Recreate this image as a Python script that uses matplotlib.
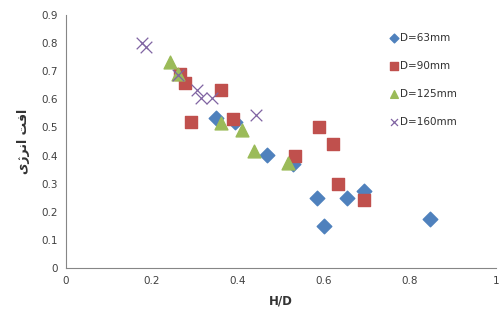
import matplotlib
matplotlib.use('Agg')
import matplotlib.pyplot as plt

plt.rcParams['font.family'] = ['DejaVu Sans']

# D=63mm
hd_63 = [0.35, 0.393, 0.468, 0.529, 0.583, 0.600, 0.654, 0.692, 0.847]
e_63 = [0.535, 0.52, 0.402, 0.369, 0.248, 0.149, 0.25, 0.273, 0.174]
# D=90mm
hd_90 = [0.265, 0.277, 0.36, 0.291, 0.388, 0.588, 0.620, 0.533, 0.632, 0.693]
e_90 = [0.69, 0.66, 0.633, 0.518, 0.53, 0.50, 0.44, 0.40, 0.30, 0.24]
# D=125mm
hd_125 = [0.242, 0.261, 0.36, 0.41, 0.437, 0.517]
e_125 = [0.733, 0.69, 0.515, 0.49, 0.417, 0.372]
# D=160mm
hd_160 = [0.178, 0.186, 0.26, 0.304, 0.313, 0.339, 0.442]
e_160 = [0.80, 0.785, 0.687, 0.633, 0.604, 0.606, 0.545]

labels = ['D=63mm', 'D=90mm', 'D=125mm', 'D=160mm']
colors = ['#4F81BD', '#C0504D', '#9BBB59', '#8064A2']

# "افت انرژی" in presentation forms, visual order
ylabel = '\uFBFC\uFB8A\uFEAE\uFEE7\uFE8D \uFE96\uFED3\uFE8D'

fig = plt.figure(figsize=(4.99, 3.22), dpi=100)
ax = fig.add_axes([0.132, 0.168, 0.862, 0.785])

ax.scatter(hd_63, e_63, marker='D', s=55, color=colors[0], label=labels[0], zorder=3)
ax.scatter(hd_90, e_90, marker='s', s=80, color=colors[1], label=labels[1], zorder=3)
ax.scatter(hd_125, e_125, marker='^', s=85, color=colors[2], label=labels[2], zorder=3)
ax.scatter(hd_160, e_160, marker='x', s=70, color=colors[3], linewidths=0.9,
           label=labels[3], zorder=4)

ax.set_xlim(0, 1)
ax.set_ylim(0, 0.9)
ax.set_xticks([0, 0.2, 0.4, 0.6, 0.8, 1])
ax.set_xticklabels(['0', '0.2', '0.4', '0.6', '0.8', '1'])
ax.set_yticks([i / 10 for i in range(10)])
ax.set_yticklabels(['0'] + ['0.%d' % i for i in range(1, 10)])
ax.tick_params(length=0, labelsize=7.5, labelcolor='#404040', pad=6)

for s in ['top', 'right']:
    ax.spines[s].set_visible(False)
for s in ['left', 'bottom']:
    ax.spines[s].set_color('#868686')
    ax.spines[s].set_linewidth(0.8)

ax.set_xlabel('H/D', fontsize=8.5, fontweight='bold', color='#333333', labelpad=6)
ax.set_ylabel(ylabel, fontsize=9, fontweight='bold', color='#333333', labelpad=8)

leg = ax.legend(loc='upper left', bbox_to_anchor=(0.74, 0.945), frameon=False,
                fontsize=7.5, labelspacing=1.72, handletextpad=0.1,
                markerscale=0.6, handlelength=1.0, borderaxespad=0)
for t in leg.get_texts():
    t.set_color('#303030')

fig.savefig('out.png', dpi=100)
